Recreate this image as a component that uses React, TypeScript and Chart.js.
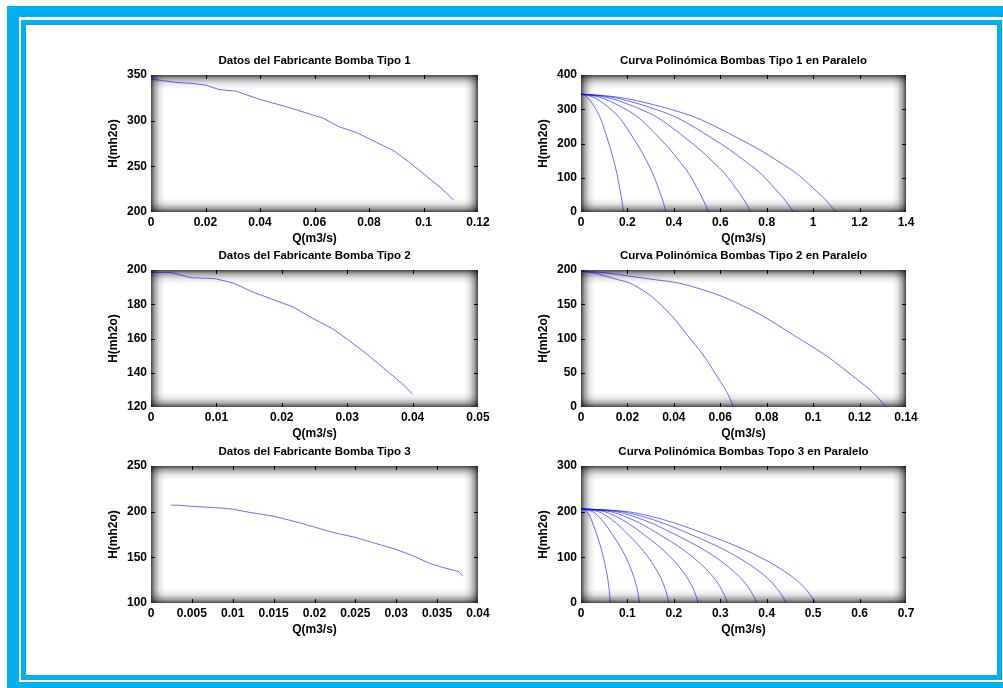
import React, { useEffect, useRef } from "react";
import { Chart, registerables } from "chart.js";

Chart.register(...registerables);

const FONT = "'Liberation Sans', Arial, Helvetica, sans-serif";
const LINE = "rgba(0,0,255,0.58)";
const FRAME = "#00b0f0";

// ---- Datos del Fabricante Bomba Tipo 1
const q1 = [0, 0.0091, 0.0152, 0.0201, 0.025, 0.0312, 0.0398, 0.0496, 0.0631, 0.0692, 0.0753, 0.0827, 0.0888, 0.095, 0.1011, 0.1072, 0.1109];
const h1 = [345.6, 341.9, 340.8, 338.9, 334.1, 332.3, 323.4, 315.3, 302.8, 293.1, 287.2, 276.2, 267.6, 254, 239.1, 224.4, 213.3];
const xTicks1 = [0, 0.02, 0.04, 0.06, 0.08, 0.1, 0.12];
const yTicks1 = [200, 250, 300, 350];

// ---- Curva Polinómica Bombas Tipo 1 en Paralelo
const hPar1 = [344, 340, 331, 316, 298, 276, 245, 214, 182, 145, 110, 70, 35, 0];
const par1Q1 = [0, 0.0165, 0.0329, 0.0494, 0.0659, 0.0824, 0.0988, 0.1135, 0.1281, 0.1427, 0.1556, 0.1665, 0.1757, 0.183];
const par1Q2 = [0, 0.033, 0.0659, 0.0988, 0.1318, 0.1647, 0.1976, 0.2269, 0.2562, 0.2855, 0.3111, 0.3331, 0.3514, 0.366];
const par1Q3 = [0, 0.0494, 0.0988, 0.1482, 0.1976, 0.2471, 0.2965, 0.3404, 0.3843, 0.4282, 0.4667, 0.4996, 0.527, 0.549];
const par1Q4 = [0, 0.0659, 0.1318, 0.1976, 0.2635, 0.3294, 0.3953, 0.4538, 0.5124, 0.571, 0.6222, 0.6661, 0.7027, 0.732];
const par1Q5 = [0, 0.0824, 0.1647, 0.2471, 0.3294, 0.4118, 0.4941, 0.5673, 0.6405, 0.7137, 0.7778, 0.8327, 0.8784, 0.915];
const par1Q6 = [0, 0.0988, 0.1976, 0.2965, 0.3953, 0.4941, 0.5929, 0.6808, 0.7686, 0.8564, 0.9333, 0.9992, 1.0541, 1.098];
const xTicks2 = [0, 0.2, 0.4, 0.6, 0.8, 1, 1.2, 1.4];
const yTicks2 = [0, 100, 200, 300, 400];

// ---- Datos del Fabricante Bomba Tipo 2
const q3 = [0, 0.003, 0.0061, 0.0097, 0.0125, 0.0156, 0.0191, 0.0217, 0.0247, 0.0278, 0.0298, 0.0329, 0.036, 0.0385, 0.04];
const h3 = [198.6, 198.6, 195.5, 195, 192.5, 187.1, 182.1, 178.5, 171.8, 165.6, 160.2, 151.3, 141.3, 133.4, 127.4];
const xTicks3 = [0, 0.01, 0.02, 0.03, 0.04, 0.05];
const yTicks3 = [120, 140, 160, 180, 200];

// ---- Curva Polinómica Bombas Tipo 2 en Paralelo
const hPar2 = [198, 196, 191, 186, 181, 171, 162, 148, 132, 104, 76, 42, 20, 0];
const par2Q1 = [0, 0.0053, 0.0105, 0.0158, 0.021, 0.0263, 0.0302, 0.0348, 0.0394, 0.046, 0.0526, 0.0591, 0.0631, 0.0657];
const par2Q2 = [0, 0.0105, 0.021, 0.0315, 0.042, 0.0526, 0.0604, 0.0696, 0.0788, 0.092, 0.1051, 0.1183, 0.1261, 0.1314];
const xTicks4 = [0, 0.02, 0.04, 0.06, 0.08, 0.1, 0.12, 0.14];
const yTicks4 = [0, 50, 100, 150, 200];

// ---- Datos del Fabricante Bomba Tipo 3
const q5 = [0.00245, 0.00326, 0.0047, 0.0088, 0.01, 0.012, 0.0149, 0.0182, 0.0206, 0.0222, 0.0251, 0.0276, 0.03, 0.032, 0.0341, 0.0357, 0.0376, 0.0382];
const h5 = [207.1, 207.1, 206, 203.8, 202.7, 199.3, 195.2, 187.8, 181.6, 177.4, 171.6, 164.9, 158.6, 151.9, 143.3, 138.9, 134.4, 129.7];
const xTicks5 = [0, 0.005, 0.01, 0.015, 0.02, 0.025, 0.03, 0.035, 0.04];
const yTicks5 = [100, 150, 200, 250];

// ---- Curva Polinómica Bombas Topo 3 en Paralelo
const hPar3 = [206, 204, 200, 190, 175, 150, 125, 100, 75, 50, 25, 0];
const par3Q1 = [0, 0.0063, 0.0126, 0.0187, 0.0253, 0.0338, 0.0417, 0.0483, 0.0537, 0.058, 0.0611, 0.0632];
const par3Q2 = [0, 0.0126, 0.0253, 0.0374, 0.0506, 0.0676, 0.0834, 0.0967, 0.1074, 0.116, 0.1221, 0.1264];
const par3Q3 = [0, 0.019, 0.0379, 0.0561, 0.0758, 0.1015, 0.1251, 0.145, 0.1611, 0.1741, 0.1832, 0.1896];
const par3Q4 = [0, 0.0253, 0.0506, 0.0748, 0.1011, 0.1353, 0.1668, 0.1934, 0.2149, 0.2321, 0.2442, 0.2528];
const par3Q5 = [0, 0.0316, 0.0632, 0.0935, 0.1264, 0.1691, 0.2085, 0.2417, 0.2686, 0.2901, 0.3053, 0.316];
const par3Q6 = [0, 0.0379, 0.0758, 0.1122, 0.1517, 0.2029, 0.2502, 0.2901, 0.3223, 0.3481, 0.3663, 0.3792];
const par3Q7 = [0, 0.0442, 0.0885, 0.1309, 0.177, 0.2367, 0.292, 0.3384, 0.376, 0.4061, 0.4274, 0.4424];
const par3Q8 = [0, 0.0506, 0.1011, 0.1496, 0.2022, 0.2706, 0.3337, 0.3868, 0.4297, 0.4641, 0.4884, 0.5056];
const xTicks6 = [0, 0.1, 0.2, 0.3, 0.4, 0.5, 0.6, 0.7];
const yTicks6 = [0, 100, 200, 300];

const X_LABEL = "Q(m3/s)";
const Y_LABEL = "H(mh2o)";

type Series = { x: number[]; y: number[]; smooth?: boolean };

const boxPlugin = {
  id: "matlabBox",
  beforeDatasetsDraw(chart: any) {
    const { ctx, chartArea: a } = chart;
    ctx.save();
    ctx.fillStyle = "#ffffff";
    ctx.fillRect(a.left, a.top, a.width, a.height);
    const d = 14;
    const mk = (x0: number, y0: number, x1: number, y1: number) => {
      const g = ctx.createLinearGradient(x0, y0, x1, y1);
      g.addColorStop(0, "rgba(0,0,0,0.72)");
      g.addColorStop(0.25, "rgba(0,0,0,0.36)");
      g.addColorStop(0.6, "rgba(0,0,0,0.1)");
      g.addColorStop(1, "rgba(0,0,0,0)");
      return g;
    };
    ctx.fillStyle = mk(a.left, 0, a.left + d, 0);
    ctx.fillRect(a.left, a.top, d, a.height);
    ctx.fillStyle = mk(a.right, 0, a.right - d, 0);
    ctx.fillRect(a.right - d, a.top, d, a.height);
    ctx.fillStyle = mk(0, a.top, 0, a.top + d);
    ctx.fillRect(a.left, a.top, a.width, d);
    ctx.fillStyle = mk(0, a.bottom, 0, a.bottom - d);
    ctx.fillRect(a.left, a.bottom - d, a.width, d);
    ctx.restore();
  },
  afterDatasetsDraw(chart: any) {
    const { ctx, chartArea: a, scales } = chart;
    const len = 4;
    ctx.save();
    ctx.strokeStyle = "#000";
    ctx.lineWidth = 1;
    ctx.beginPath();
    for (const t of scales.x.ticks) {
      const px = Math.round(scales.x.getPixelForValue(t.value)) + 0.5;
      if (px <= a.left + 1 || px >= a.right - 1) continue;
      ctx.moveTo(px, a.bottom);
      ctx.lineTo(px, a.bottom - len);
      ctx.moveTo(px, a.top);
      ctx.lineTo(px, a.top + len);
    }
    for (const t of scales.y.ticks) {
      const py = Math.round(scales.y.getPixelForValue(t.value)) + 0.5;
      if (py <= a.top + 1 || py >= a.bottom - 1) continue;
      ctx.moveTo(a.left, py);
      ctx.lineTo(a.left + len, py);
      ctx.moveTo(a.right, py);
      ctx.lineTo(a.right - len, py);
    }
    ctx.stroke();
    ctx.restore();
  },
  afterDraw(chart: any) {
    const { ctx, chartArea: a } = chart;
    const title = chart.options.plugins.matlabBox?.title;
    if (!title) return;
    ctx.save();
    ctx.fillStyle = "#000";
    ctx.font = `bold 11.5px ${FONT}`;
    ctx.textAlign = "center";
    ctx.textBaseline = "middle";
    ctx.fillText(title, (a.left + a.right) / 2, a.top - 14);
    ctx.restore();
  },
};

const tickFont = { family: FONT, size: 12, weight: "bold" as const };

function Panel(props: {
  left: number;
  top: number;
  padRight: number;
  title: string;
  series: Series[];
  xTicks: number[];
  yTicks: number[];
}) {
  const ref = useRef<HTMLCanvasElement | null>(null);
  useEffect(() => {
    const { series, xTicks, yTicks, title, padRight } = props;
    const chart = new Chart(ref.current as HTMLCanvasElement, {
      type: "scatter",
      data: {
        datasets: series.map((s) => ({
          data: s.x.map((x, i) => ({ x, y: s.y[i] })),
          showLine: true,
          borderColor: LINE,
          backgroundColor: LINE,
          borderWidth: 1,
          pointRadius: 0,
          fill: false,
          cubicInterpolationMode: s.smooth ? "monotone" : "default",
          tension: 0,
        })),
      },
      options: {
        responsive: false,
        animation: false,
        events: [],
        layout: { padding: { left: 0, right: padRight, top: 30, bottom: 0 } },
        plugins: {
          legend: { display: false },
          tooltip: { enabled: false },
          title: { display: false },
          matlabBox: { title },
        },
        scales: {
          x: {
            type: "linear",
            min: xTicks[0],
            max: xTicks[xTicks.length - 1],
            afterBuildTicks: (s: any) => {
              s.ticks = xTicks.map((v) => ({ value: v }));
            },
            afterFit: (s: any) => {
              s.height = 34;
            },
            grid: { display: false, drawTicks: false },
            border: { display: false },
            ticks: {
              padding: 3,
              color: "#000",
              font: tickFont,
              maxRotation: 0,
              autoSkip: false,
              callback: (v: any) => String(v),
            },
            title: {
              display: true,
              text: X_LABEL,
              color: "#000",
              font: tickFont,
              padding: { top: 0, bottom: 0 },
            },
          },
          y: {
            type: "linear",
            min: yTicks[0],
            max: yTicks[yTicks.length - 1],
            afterBuildTicks: (s: any) => {
              s.ticks = yTicks.map((v) => ({ value: v }));
            },
            afterFit: (s: any) => {
              s.width = 51;
            },
            grid: { display: false, drawTicks: false },
            border: { display: false },
            ticks: {
              padding: 4,
              color: "#000",
              font: tickFont,
              autoSkip: false,
              callback: (v: any) => String(v),
            },
            title: {
              display: true,
              text: Y_LABEL,
              color: "#000",
              font: tickFont,
              padding: { top: 6, bottom: 0 },
            },
          },
        },
      } as any,
      plugins: [boxPlugin],
    });
    return () => chart.destroy();
  }, []);
  return (
    <canvas
      ref={ref}
      width={400}
      height={201}
      style={{ position: "absolute", left: props.left, top: props.top, width: 400, height: 201 }}
    />
  );
}

export default function App() {
  const L = 100;
  const R = 530;
  return (
    <div
      style={{
        position: "fixed",
        left: 0,
        top: 0,
        width: 1003,
        height: 688,
        overflow: "hidden",
        background: "#fff",
      }}
    >
      <div
        style={{
          position: "absolute",
          left: 7,
          top: 6,
          width: 1020,
          height: 688,
          border: `12px solid ${FRAME}`,
          boxSizing: "border-box",
        }}
      />
      <div
        style={{
          position: "absolute",
          left: 19,
          top: 17,
          width: 1000,
          height: 665,
          background: "#fff",
        }}
      />
      <div
        style={{
          position: "absolute",
          left: 21,
          top: 20,
          width: 981,
          height: 660,
          border: `5px solid ${FRAME}`,
          boxSizing: "border-box",
        }}
      />
      <Panel
        left={L}
        top={45}
        padRight={22}
        title="Datos del Fabricante Bomba Tipo 1"
        series={[{ x: q1, y: h1 }]}
        xTicks={xTicks1}
        yTicks={yTicks1}
      />
      <Panel
        left={R}
        top={45}
        padRight={24}
        title="Curva Polinómica Bombas Tipo 1 en Paralelo"
        series={[par1Q1, par1Q2, par1Q3, par1Q4, par1Q5, par1Q6].map((q) => ({ x: q, y: hPar1, smooth: true }))}
        xTicks={xTicks2}
        yTicks={yTicks2}
      />
      <Panel
        left={L}
        top={240}
        padRight={22}
        title="Datos del Fabricante Bomba Tipo 2"
        series={[{ x: q3, y: h3 }]}
        xTicks={xTicks3}
        yTicks={yTicks3}
      />
      <Panel
        left={R}
        top={240}
        padRight={24}
        title="Curva Polinómica Bombas Tipo 2 en Paralelo"
        series={[par2Q1, par2Q2].map((q) => ({ x: q, y: hPar2, smooth: true }))}
        xTicks={xTicks4}
        yTicks={yTicks4}
      />
      <Panel
        left={L}
        top={436}
        padRight={22}
        title="Datos del Fabricante Bomba Tipo 3"
        series={[{ x: q5, y: h5 }]}
        xTicks={xTicks5}
        yTicks={yTicks5}
      />
      <Panel
        left={R}
        top={436}
        padRight={24}
        title="Curva Polinómica Bombas Topo 3 en Paralelo"
        series={[par3Q1, par3Q2, par3Q3, par3Q4, par3Q5, par3Q6, par3Q7, par3Q8].map((q) => ({
          x: q,
          y: hPar3,
          smooth: true,
        }))}
        xTicks={xTicks6}
        yTicks={yTicks6}
      />
    </div>
  );
}
